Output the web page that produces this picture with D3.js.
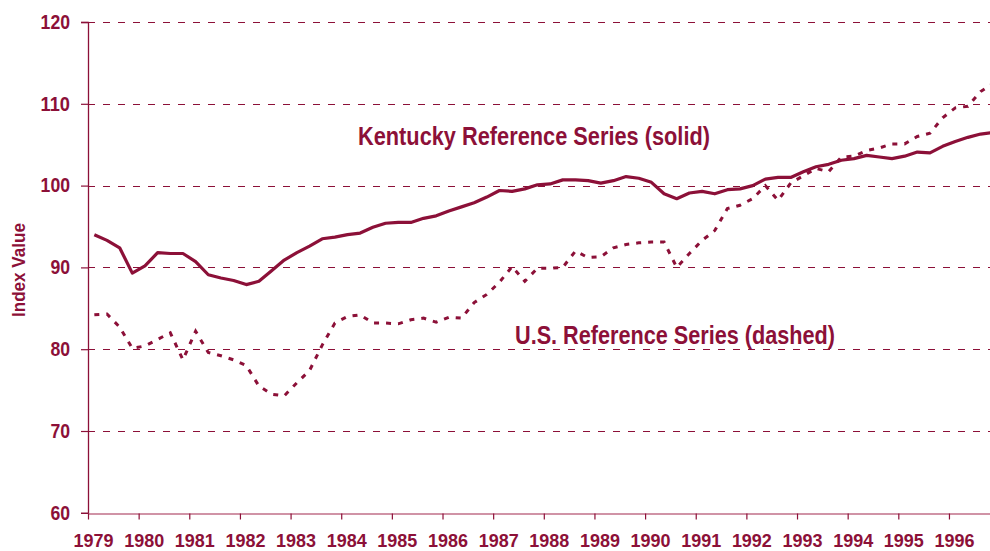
<!DOCTYPE html>
<html>
<head>
<meta charset="utf-8">
<script src="https://cdn.jsdelivr.net/npm/d3@7"></script>
<style>
  html, body { margin: 0; padding: 0; background: #fff; }
  svg { display: block; }
  text { font-family: "Liberation Sans", Arial, sans-serif; font-weight: bold; }
</style>
</head>
<body>
<div id="chart"></div>
<script>
// Quarterly index values, 1979 Q1 .. 1996 Q4
const years = d3.range(1979, 1997);
const yTicks = [60, 70, 80, 90, 100, 110, 120];

const kentucky = [
  94.0, 93.3, 92.4, 89.3, 90.2, 91.8, 91.7, 91.7, 90.7, 89.1, 88.7, 88.4,
  87.9, 88.3, 89.6, 90.9, 91.8, 92.6, 93.5, 93.7, 94.0, 94.2, 94.9, 95.4,
  95.5, 95.5, 96.0, 96.3, 96.9, 97.4, 97.9, 98.6, 99.4, 99.3, 99.6, 100.1,
  100.2, 100.7, 100.7, 100.6, 100.3, 100.6, 101.1, 100.9, 100.4, 99.0, 98.4, 99.1,
  99.3, 99.0, 99.5, 99.6, 100.0, 100.8, 101.0, 101.0, 101.7, 102.3, 102.6, 103.1,
  103.3, 103.7, 103.5, 103.3, 103.6, 104.1, 104.0, 104.8, 105.4, 105.9, 106.3, 106.5
];

const us = [
  84.2, 84.3, 82.7, 80.1, 80.4, 81.2, 82.0, 78.7, 82.2, 79.6, 79.2, 78.7,
  78.0, 75.5, 74.5, 74.3, 75.9, 77.4, 80.5, 83.2, 84.0, 84.2, 83.2, 83.2,
  83.1, 83.6, 83.8, 83.3, 83.9, 83.8, 85.7, 86.7, 88.2, 90.1, 88.3, 89.9,
  89.9, 90.0, 92.0, 91.2, 91.3, 92.4, 92.8, 93.0, 93.1, 93.1, 90.0, 91.7,
  93.3, 94.5, 97.2, 97.6, 98.4, 100.0, 98.2, 100.3, 101.2, 102.1, 101.7, 103.5,
  103.6, 104.3, 104.6, 105.1, 105.1, 106.0, 106.4, 108.3, 109.5, 109.7, 111.5, 112.5
];

const color = "#8c1038";
const W = 990, H = 551;

const svg = d3.select("#chart").append("svg")
  .attr("width", W)
  .attr("height", H);

// Scales
const x = d3.scaleLinear().domain([1979, 1997]).range([88, 999.6]);
const y = d3.scaleLinear().domain([60, 120]).range([512.8, 22]);

const qx = i => x(1979 + (i + 0.5) / 4);

// Gridlines
svg.append("g")
  .selectAll("line")
  .data(yTicks.filter(d => d > 60))
  .join("line")
  .attr("x1", x(1979))
  .attr("x2", W)
  .attr("y1", d => Math.round(y(d)) + 0.5)
  .attr("y2", d => Math.round(y(d)) + 0.5)
  .attr("stroke", color)
  .attr("stroke-width", 1.2)
  .attr("stroke-dasharray", "7,8");

// Y axis
const yAxis = svg.append("g")
  .attr("transform", `translate(${x(1979)},0)`)
  .call(d3.axisLeft(y).tickValues(yTicks).tickSize(7).tickPadding(11));
yAxis.select(".domain").attr("stroke", color).attr("stroke-width", 1.3);
yAxis.selectAll(".tick line").attr("stroke", color).attr("stroke-width", 1.2);
yAxis.selectAll(".tick text")
  .attr("fill", color)
  .attr("font-family", null)
  .attr("font-size", null)
  .attr("textLength", d => String(d).length * 9.8)
  .attr("lengthAdjust", "spacingAndGlyphs")
  .style("font-size", "19.5px");

// X axis
const xAxis = svg.append("g")
  .attr("transform", `translate(0,${Math.round(y(60)) + 0.5})`)
  .call(d3.axisBottom(x).tickValues(years).tickFormat(d3.format("d")).tickSize(6).tickSizeOuter(0));
xAxis.select(".domain").attr("stroke", "#c06f88").attr("stroke-width", 1.6);
xAxis.selectAll(".tick line").attr("stroke", color).attr("stroke-width", 1.2);
xAxis.selectAll(".tick text")
  .attr("fill", color)
  .attr("dx", 5)
  .attr("y", 0)
  .attr("dy", 33)
  .attr("textLength", 40)
  .attr("lengthAdjust", "spacingAndGlyphs")
  .style("font-size", "19px");

// Lines
const line = d3.line()
  .x((d, i) => qx(i))
  .y(d => y(d));

svg.append("path")
  .datum(us)
  .attr("d", line)
  .attr("fill", "none")
  .attr("stroke", color)
  .attr("stroke-width", 3)
  .attr("stroke-dasharray", "5,7");

svg.append("path")
  .datum(kentucky)
  .attr("d", line)
  .attr("fill", "none")
  .attr("stroke", color)
  .attr("stroke-width", 3.2)
  .attr("stroke-linejoin", "round");

// Series labels
svg.append("text")
  .attr("x", 534)
  .attr("y", 145)
  .attr("text-anchor", "middle")
  .attr("fill", color)
  .attr("textLength", 352)
  .attr("lengthAdjust", "spacingAndGlyphs")
  .style("font-size", "25px")
  .text("Kentucky Reference Series (solid)");

svg.append("text")
  .attr("x", 675)
  .attr("y", 344)
  .attr("text-anchor", "middle")
  .attr("fill", color)
  .attr("textLength", 320)
  .attr("lengthAdjust", "spacingAndGlyphs")
  .style("font-size", "25px")
  .text("U.S. Reference Series (dashed)");

// Y axis title
svg.append("text")
  .attr("transform", "rotate(-90)")
  .attr("x", -270)
  .attr("y", 25)
  .attr("text-anchor", "middle")
  .attr("fill", color)
  .attr("textLength", 94)
  .attr("lengthAdjust", "spacingAndGlyphs")
  .style("font-size", "18px")
  .text("Index Value");
</script>
</body>
</html>
